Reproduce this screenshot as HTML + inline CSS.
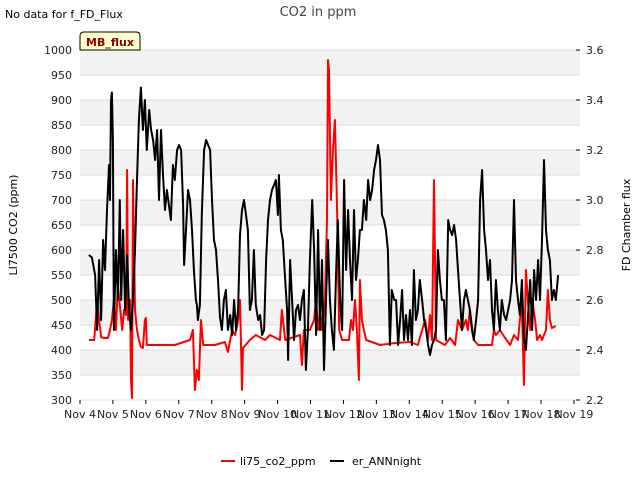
<!DOCTYPE html>
<html><head><meta charset="utf-8"><style>
body{margin:0;background:#fff;font-family:"Liberation Sans","DejaVu Sans",sans-serif;}
svg text{font-family:"DejaVu Sans","Liberation Sans",sans-serif;}
</style></head><body>
<svg id="c" width="640" height="480" xmlns="http://www.w3.org/2000/svg">
<text x="5" y="18" font-size="11" fill="#000">No data for f_FD_Flux</text>
<text x="318" y="16" font-size="13" fill="#444" text-anchor="middle">CO2 in ppm</text>
<g id="bands"></g><g id="grid"></g>
<g id="series"></g>
<g id="axes"></g>
<path d="M80,50 L80,36 Q80,32 84,32 L136,32 Q140,32 140,36 L140,50 Z" fill="#ffffcc" stroke="#000" stroke-width="1"/>
<text x="110" y="46" font-size="11" font-weight="bold" fill="#8b0000" text-anchor="middle">MB_flux</text>
<text transform="translate(17,225) rotate(-90)" font-size="11" text-anchor="middle">LI7500 CO2 (ppm)</text>
<text transform="translate(630,225) rotate(-90)" font-size="11" text-anchor="middle">FD Chamber flux</text>
<g>
<line x1="221" y1="461" x2="235" y2="461" stroke="#f00" stroke-width="2"/>
<text x="240" y="465" font-size="11">li75_co2_ppm</text>
<line x1="330" y1="461" x2="344" y2="461" stroke="#000" stroke-width="2"/>
<text x="352" y="465" font-size="11">er_ANNnight</text>
</g>
</svg>
<script>
const xTickLabels=["Nov 4","Nov 5","Nov 6","Nov 7","Nov 8","Nov 9","Nov 10","Nov 11","Nov 12","Nov 13","Nov 14","Nov 15","Nov 16","Nov 17","Nov 18","Nov 19"];
const leftTicks=[300,350,400,450,500,550,600,650,700,750,800,850,900,950,1000];
const rightTicks=[2.2,2.4,2.6,2.8,3.0,3.2,3.4,3.6];
const annDays=[0.27,0.36,0.46,0.52,0.58,0.64,0.70,0.76,0.82,0.88,0.91,0.94,0.97,1.00,1.03,1.09,1.15,1.21,1.25,1.31,1.37,1.43,1.49,1.55,1.61,1.67,1.73,1.79,1.85,1.91,1.97,2.03,2.10,2.16,2.22,2.28,2.34,2.40,2.46,2.52,2.58,2.64,2.70,2.76,2.82,2.88,2.95,3.01,3.07,3.13,3.16,3.22,3.28,3.34,3.40,3.46,3.52,3.55,3.58,3.64,3.70,3.77,3.83,3.89,3.95,4.01,4.07,4.13,4.19,4.25,4.31,4.37,4.43,4.49,4.56,4.62,4.68,4.74,4.80,4.86,4.92,4.98,5.04,5.10,5.16,5.22,5.28,5.34,5.41,5.47,5.53,5.59,5.65,5.71,5.77,5.83,5.89,5.95,6.01,6.04,6.10,6.16,6.23,6.29,6.32,6.38,6.44,6.50,6.56,6.62,6.68,6.74,6.80,6.86,6.92,6.98,7.05,7.11,7.17,7.23,7.29,7.35,7.41,7.47,7.53,7.59,7.65,7.71,7.77,7.83,7.90,7.96,8.02,8.08,8.14,8.20,8.26,8.32,8.38,8.44,8.50,8.56,8.62,8.69,8.75,8.81,8.87,8.93,8.99,9.05,9.11,9.17,9.23,9.29,9.35,9.41,9.47,9.54,9.60,9.66,9.72,9.78,9.84,9.90,9.96,10.02,10.08,10.14,10.20,10.26,10.32,10.39,10.45,10.51,10.57,10.63,10.69,10.75,10.81,10.87,10.93,10.99,11.05,11.11,11.18,11.24,11.30,11.36,11.42,11.48,11.54,11.60,11.66,11.72,11.78,11.84,11.90,11.96,12.03,12.09,12.15,12.21,12.27,12.33,12.39,12.45,12.51,12.57,12.63,12.69,12.75,12.81,12.88,12.94,13.00,13.06,13.12,13.18,13.24,13.30,13.36,13.42,13.48,13.54,13.60,13.67,13.73,13.79,13.85,13.91,13.97,14.03,14.09,14.15,14.21,14.27,14.33,14.39,14.45,14.52];
const annValues=[2.78,2.77,2.70,2.48,2.76,2.52,2.84,2.72,2.96,3.14,3.00,3.40,3.43,3.24,2.48,2.80,2.60,3.00,2.60,2.88,2.56,2.78,2.56,2.48,2.60,2.80,3.08,3.32,3.45,3.28,3.40,3.20,3.36,3.28,3.24,3.16,3.28,3.00,3.28,3.10,2.96,3.04,2.98,2.92,3.14,3.08,3.20,3.22,3.20,2.98,2.74,2.88,3.04,3.00,2.88,2.72,2.60,2.58,2.52,2.58,2.94,3.20,3.24,3.22,3.20,3.00,2.84,2.80,2.68,2.53,2.48,2.60,2.64,2.48,2.54,2.46,2.60,2.48,2.56,2.86,2.96,3.00,2.94,2.88,2.56,2.60,2.80,2.58,2.52,2.54,2.46,2.48,2.76,2.92,3.00,3.04,3.06,3.08,2.94,3.10,2.88,2.84,2.68,2.56,2.36,2.76,2.60,2.44,2.56,2.58,2.52,2.60,2.64,2.32,2.48,2.76,3.00,2.80,2.46,2.88,2.48,2.76,2.32,2.60,2.84,2.60,2.48,2.40,2.68,2.92,2.60,2.48,3.08,2.72,2.96,2.76,2.60,2.96,2.68,2.76,2.88,2.88,3.00,2.92,3.08,3.00,3.04,3.12,3.16,3.22,3.16,2.94,2.92,2.88,2.80,2.42,2.64,2.60,2.60,2.42,2.52,2.64,2.44,2.54,2.44,2.56,2.42,2.72,2.52,2.56,2.68,2.60,2.52,2.48,2.42,2.38,2.42,2.44,2.48,2.80,2.68,2.60,2.60,2.44,2.92,2.88,2.86,2.90,2.84,2.72,2.60,2.48,2.60,2.64,2.60,2.56,2.48,2.44,2.52,2.60,3.00,3.12,2.88,2.80,2.68,2.76,2.56,2.48,2.68,2.56,2.48,2.60,2.54,2.52,2.56,2.60,2.68,3.00,2.68,2.60,2.54,2.68,2.44,2.40,2.52,2.68,2.48,2.72,2.60,2.76,2.60,2.84,3.16,2.88,2.80,2.76,2.60,2.64,2.60,2.70];
const co2Days=[0.27,0.43,0.52,0.58,0.64,0.73,0.85,0.91,0.97,1.03,1.09,1.15,1.21,1.28,1.34,1.40,1.43,1.46,1.52,1.55,1.58,1.61,1.67,1.73,1.79,1.85,1.91,1.97,2.00,2.03,2.43,2.88,3.34,3.43,3.49,3.55,3.61,3.67,3.74,4.10,4.40,4.49,4.62,4.71,4.80,4.86,4.92,4.95,5.16,5.34,5.62,5.77,6.07,6.13,6.23,6.68,6.74,6.80,6.98,7.11,7.17,7.23,7.29,7.35,7.44,7.50,7.53,7.56,7.62,7.68,7.74,7.80,7.87,7.96,8.17,8.23,8.29,8.35,8.41,8.47,8.50,8.56,8.62,8.69,9.11,9.57,10.02,10.26,10.32,10.48,10.57,10.63,10.69,10.75,10.81,11.08,11.24,11.39,11.48,11.60,11.66,11.72,11.78,11.84,11.96,12.09,12.51,12.57,12.63,12.75,12.91,13.06,13.18,13.30,13.36,13.42,13.48,13.54,13.60,13.67,13.73,13.82,13.88,13.97,14.03,14.15,14.21,14.27,14.33,14.45];
const co2Values=[420,420,496,460,426,424,424,440,460,500,440,530,490,440,480,470,760,460,500,340,304,740,480,440,420,406,404,460,464,410,410,410,420,440,320,360,340,460,410,410,416,396,440,430,460,500,320,404,420,430,420,430,420,480,420,430,370,440,440,460,500,440,480,440,500,660,980,960,700,800,860,700,440,420,420,460,440,500,440,340,540,460,440,420,410,414,416,410,424,460,420,470,420,740,420,410,424,410,460,440,450,460,440,480,420,410,410,440,430,440,424,410,430,420,460,490,330,560,500,440,500,460,420,430,420,440,520,460,444,448];
const NS="http://www.w3.org/2000/svg";
const X0=80,X1=580,Y0=50,Y1=400,DAYPX=32.93;
const xs=d=>X0+d*DAYPX;
const yl=v=>Y1-(v-300)/700*(Y1-Y0);
const yr=v=>Y1-(v-2.2)/1.4*(Y1-Y0);
function mk(tag,attrs,parent){const e=document.createElementNS(NS,tag);for(const k in attrs)e.setAttribute(k,attrs[k]);parent.appendChild(e);return e;}
const bands=document.getElementById('bands'),grid=document.getElementById('grid'),axes=document.getElementById('axes'),series=document.getElementById('series');
for(let i=0;i<leftTicks.length-1;i++){
  if((leftTicks.length-2-i)%2===0){
    const r=mk('rect',{x:X0,y:yl(leftTicks[i+1]),width:X1-X0,height:yl(leftTicks[i])-yl(leftTicks[i+1]),fill:'#f2f2f2'},bands);
    
    
  }
}
leftTicks.forEach(v=>{
  const l=mk('line',{x1:X0,x2:X1,y1:yl(v),y2:yl(v),stroke:'#dcdcdc','stroke-width':1},grid);
  
  
  const t=mk('text',{x:72,y:yl(v)+4,'font-size':11,'text-anchor':'end',fill:'#222'},axes);
  t.textContent=v;
  
  
});
rightTicks.forEach(v=>{
  const l=mk('line',{x1:X1,x2:X1-4,y1:yr(v),y2:yr(v),stroke:'#000'},axes);
  
  
  const t=mk('text',{x:586,y:yr(v)+4,'font-size':11,fill:'#222'},axes);
  t.textContent=v.toFixed(1);
  
  
});
xTickLabels.forEach((s,i)=>{
  const l=mk('line',{x1:xs(i),x2:xs(i),y1:Y1,y2:Y1+4,stroke:'#000'},axes);
  
  
  const t=mk('text',{x:xs(i),y:418,'font-size':11,'text-anchor':'middle',fill:'#222'},axes);
  t.textContent=s;
  
  
});
const red=mk('polyline',{points:co2Days.map((d,i)=>xs(d).toFixed(1)+','+yl(co2Values[i]).toFixed(1)).join(' '),fill:'none',stroke:'#f00','stroke-width':2,'stroke-linejoin':'round'},series);


const blk=mk('polyline',{points:annDays.map((d,i)=>xs(d).toFixed(1)+','+yr(annValues[i]).toFixed(1)).join(' '),fill:'none',stroke:'#000','stroke-width':2,'stroke-linejoin':'round'},series);


</script>
</body></html>
